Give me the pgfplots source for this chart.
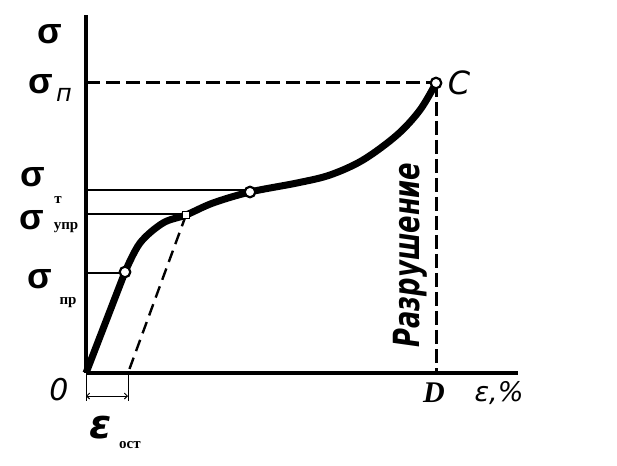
\documentclass[border=0pt]{standalone}
\usepackage{pgfplots}
\pgfplotsset{compat=1.18}
\usepackage{fontspec}
\setmainfont{Liberation Serif}
\newfontfamily\sans{DejaVu Sans}
\newfontfamily\sig{Liberation Sans}
\usetikzlibrary{arrows.meta}
\begin{document}
\begin{tikzpicture}
\begin{axis}[
  scale only axis, width=432pt, height=358pt,
  xmin=0, xmax=432, ymin=0, ymax=358,
  axis lines=left, axis line style={-, line width=4.5pt},
  ticks=none, clip=false,
]
% horizontal level lines
\addplot[line width=3pt, dash pattern=on 14pt off 6pt] coordinates {(0,290) (350,290)};
\addplot[line width=2.5pt] coordinates {(0,183) (164,183)};
\addplot[line width=2.5pt] coordinates {(0,159) (100,159)};
\addplot[line width=2.5pt] coordinates {(0,100) (39,100)};
% unloading line
\addplot[line width=2.4pt, dash pattern=on 12pt off 7pt] coordinates {(100,158) (42,0)};
% fracture line
\addplot[line width=3pt, dash pattern=on 14pt off 5pt] coordinates {(350,290) (350,0)};
% stress-strain curve
\addplot[line width=7pt] coordinates {(0,0) (39,101)};
\addplot[line width=7pt, smooth, tension=0.55] coordinates {
 (39,101) (54,130) (77,150) (100,158) (127,170) (164,181) (211,190) (244,198) (277,213) (311,238) (334,263) (350,290)};
% points
\addplot[only marks, mark=*, mark size=5.3pt, mark options={fill=white, draw=black, line width=2.2pt}] coordinates {(39,101) (164,181) (350,290)};
\addplot[only marks, mark=square*, mark size=3.3pt, mark options={fill=white, draw=black, line width=1pt}] coordinates {(100,158)};
% residual strain dimension
\addplot[line width=0.9pt] coordinates {(0,0) (0,-28)};
\addplot[line width=0.9pt] coordinates {(42,0) (42,-28)};
\addplot[line width=0.9pt, {Straight Barb[length=3pt]}-{Straight Barb[length=3pt]}] coordinates {(0,-23) (42,-23)};
% labels
\node[font=\sig\bfseries\fontsize{36}{36}\selectfont] at (axis cs:-36,339) {σ};
\node[font=\sig\bfseries\fontsize{36}{36}\selectfont] at (axis cs:-45,289) {σ};
\node[font=\sans\itshape\fontsize{24}{24}\selectfont] at (axis cs:-22,278) {п};
\node[font=\sig\bfseries\fontsize{36}{36}\selectfont] at (axis cs:-53,196) {σ};
\node[font=\bfseries\fontsize{15}{15}\selectfont] at (axis cs:-28,173) {т};
\node[font=\sig\bfseries\fontsize{36}{36}\selectfont] at (axis cs:-54,153) {σ};
\node[font=\bfseries\fontsize{15}{15}\selectfont] at (axis cs:-20,145) {упр};
\node[font=\sig\bfseries\fontsize{36}{36}\selectfont] at (axis cs:-46,94) {σ};
\node[font=\bfseries\fontsize{15}{15}\selectfont] at (axis cs:-18,70) {пр};
\node[font=\sans\itshape\fontsize{30}{30}\selectfont] at (axis cs:-27,-17) {0};
\node[font=\sans\bfseries\itshape\fontsize{40}{40}\selectfont] at (axis cs:15,-55) {ε};
\node[font=\bfseries\fontsize{15}{15}\selectfont] at (axis cs:44,-72) {ост};
\node[font=\bfseries\itshape\fontsize{30}{30}\selectfont] at (axis cs:348,-20) {D};
\node[font=\sans\itshape\fontsize{27}{27}\selectfont] at (axis cs:413,-20) {ε,\%};
\node[font=\sans\itshape\fontsize{32}{32}\selectfont] at (axis cs:373,290) {C};
\node[rotate=90, font=\sans\bfseries\itshape\fontsize{30}{30}\selectfont] at (axis cs:324,118) {\scalebox{0.86}[1.2]{Разрушение}};
\coordinate (bl) at (axis cs:-86,-92);
\coordinate (tr) at (axis cs:531,373);
\end{axis}
\path (bl) rectangle (tr);
\end{tikzpicture}
\end{document}
